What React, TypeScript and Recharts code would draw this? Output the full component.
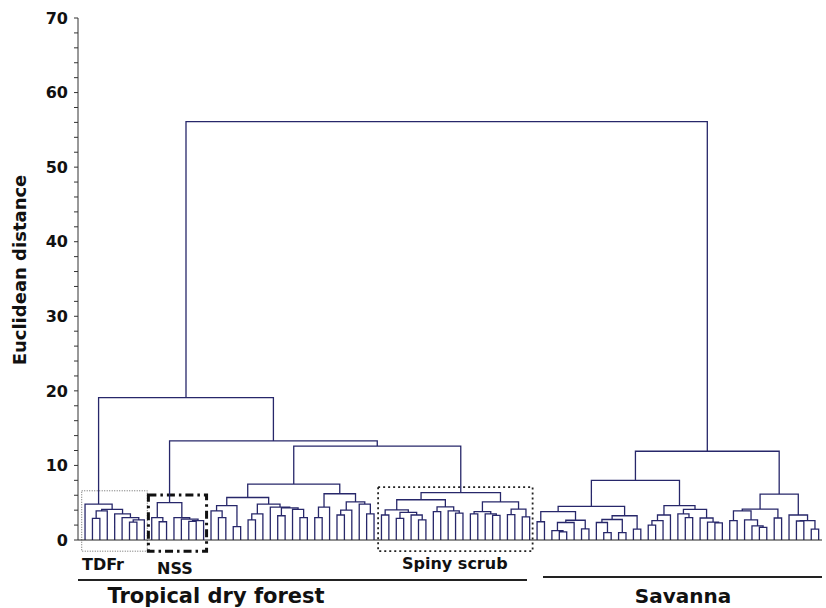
import React from 'react';
import { LineChart, Line, XAxis, YAxis, ReferenceArea } from 'recharts';

// A clade is either a leaf (null) or [merge height, left, right].
type Clade = null | [number, Clade, Clade];
const o: Clade = null;

// Tropical dry forest sub-clusters, left to right
const tdfr: Clade = [4.8, o, [4.1, [3.9, [2.9, o, o], o], [3.5, o, [3.0, o, [2.7, [2.4, o, o], o]]]]];
const nss: Clade = [5.0, [3.0, o, [2.45, o, o]], [3.0, o, [2.8, o, [2.6, [2.5, o, o], o]]]];
const midLeft: Clade = [5.7,
  [4.6, [3.9, o, [3.0, o, o]], [1.8, o, o]],
  [4.8, [3.5, [2.7, o, o], o], [4.4, o, [4.3, [3.25, o, o], [4.1, o, [3.0, o, o]]]]]];
const midRight: Clade = [6.2, [4.4, [3.0, o, o], o], [5.1, [4.0, [3.35, o, o], o], [4.8, o, [3.5, o, o]]]];
const spiny: Clade = [6.35,
  [5.4, [4.05, [3.35, o, o], [3.7, [2.9, o, o], [3.35, o, [2.7, o, o]]]], [4.45, [3.8, o, o], [3.9, o, [3.6, o, o]]]],
  [5.1, [3.8, [3.5, o, o], [3.5, o, [3.3, o, o]]], [4.15, [3.4, o, o], [3.1, o, o]]]];

// Savanna sub-clusters
const savLeft: Clade = [8.0,
  [4.5,
    [3.8, [2.45, o, o], [2.65, [2.35, [1.25, o, [1.1, o, o]], o], [1.5, o, o]]],
    [3.25, [2.75, [2.35, o, [1.0, o, o]], [1.0, o, o]], [1.45, o, o]]],
  [4.6, [3.35, [2.6, [2.0, o, o], o], o], [4.1, [3.5, o, [3.0, o, o]], [2.95, o, [2.4, o, [2.3, o, o]]]]]];
const savRight: Clade = [6.15,
  [4.15, [3.9, [2.6, o, o], [2.7, o, [1.9, o, [1.7, o, o]]]], [2.95, o, o]],
  [3.35, o, [2.6, [2.55, o, o], [1.45, o, o]]]];

// upper joins
const tropical: Clade = [19.1, tdfr, [13.3, nss, [12.6, [7.5, midLeft, midRight], spiny]]];
const savanna: Clade = [11.9, savLeft, savRight];
const tree: Clade = [56.1, tropical, savanna];

const yMinor = Array.from({ length: 36 }, (_, i) => i * 2);

// framed groups: first/last leaf and top of the frame
const frames = [
  { name: 'TDFr', first: 0, last: 8, top: 6.6, stroke: '#666', dash: '1 1.5', width: 1 },
  { name: 'NSS', first: 9, last: 16, top: 6.05, stroke: '#111', dash: '8 4 2.5 4', width: 3 },
  { name: 'Spiny scrub', first: 40, last: 60, top: 7.1, stroke: '#222', dash: '2 3', width: 1.8 },
];

type Pt = { x: number; y: number | null };

function buildLinks(root: Clade) {
  const pts: Pt[] = [];
  let leaf = 0;
  const walk = (c: Clade): { x: number; h: number } => {
    if (c === null) return { x: leaf++, h: 0 };
    const [h, a, b] = c;
    const l = walk(a);
    const r = walk(b);
    pts.push({ x: l.x, y: l.h }, { x: l.x, y: h }, { x: r.x, y: h }, { x: r.x, y: r.h }, { x: r.x, y: null });
    return { x: (l.x + r.x) / 2, h };
  };
  walk(root);
  return { pts, leaves: leaf };
}

const { pts, leaves } = buildLinks(tree);
const leafTicks = Array.from({ length: leaves }, (_, i) => i);

const font = '"DejaVu Sans", sans-serif';

const YTick = (props: any) => {
  const { x, y, payload } = props;
  if (payload.value % 10 !== 0) return <g />;
  return (
    <text x={x} y={y} dy="0.36em" textAnchor="end" fontFamily={font} fontWeight="bold" fontSize={16} fill="#111">
      {payload.value}
    </text>
  );
};

const label = (left: number, top: number, size: number, text: string, centered = false) => (
  <div
    style={{
      position: 'absolute', left, top, fontFamily: font, fontWeight: 'bold', fontSize: size, lineHeight: 1,
      color: '#111', whiteSpace: 'nowrap', transform: centered ? 'translateX(-50%)' : undefined,
    }}
  >
    {text}
  </div>
);

export default function App() {
  return (
    <div style={{ position: 'absolute', left: 0, top: 0, width: 826, height: 608, background: '#fff' }}>
      <LineChart width={826} height={608} margin={{ top: 18, right: 4, bottom: 58, left: 8 }}>
        <XAxis
          type="number"
          dataKey="x"
          domain={[-0.95, 99.45]}
          ticks={leafTicks}
          interval={0}
          tick={false}
          tickSize={2}
          height={10}
          allowDataOverflow
          stroke="#222"
        />
        <YAxis
          type="number"
          domain={[0, 70]}
          ticks={yMinor}
          interval={0}
          width={70}
          tickSize={4}
          tickMargin={6}
          tick={<YTick />}
          stroke="#333"
        />
        {frames.map((f) => (
          <ReferenceArea
            key={f.name}
            x1={f.first - 0.45}
            x2={f.last + 0.4}
            y1={-1.5}
            y2={f.top}
            ifOverflow="visible"
            fill="none"
            stroke={f.stroke}
            strokeWidth={f.width}
            strokeDasharray={f.dash}
          />
        ))}
        <Line
          data={pts}
          dataKey="y"
          type="linear"
          stroke="#27276a"
          strokeWidth={1.3}
          dot={false}
          activeDot={false}
          connectNulls={false}
          isAnimationActive={false}
        />
      </LineChart>

      <div
        style={{
          position: 'absolute', left: 19, top: 270, transform: 'translate(-50%, -50%) rotate(-90deg)',
          fontFamily: font, fontWeight: 'bold', fontSize: 18, color: '#111', whiteSpace: 'nowrap',
        }}
      >
        Euclidean distance
      </div>

      {label(82, 557, 16, 'TDFr')}
      {label(157, 561, 16, 'NSS')}
      {label(402, 556, 16, 'Spiny scrub')}

      <div style={{ position: 'absolute', left: 78, top: 579, width: 449, height: 2, background: '#222' }} />
      <div style={{ position: 'absolute', left: 543, top: 576, width: 279, height: 2, background: '#222' }} />

      {label(216, 586, 21, 'Tropical dry forest', true)}
      {label(683, 586, 20, 'Savanna', true)}
    </div>
  );
}
